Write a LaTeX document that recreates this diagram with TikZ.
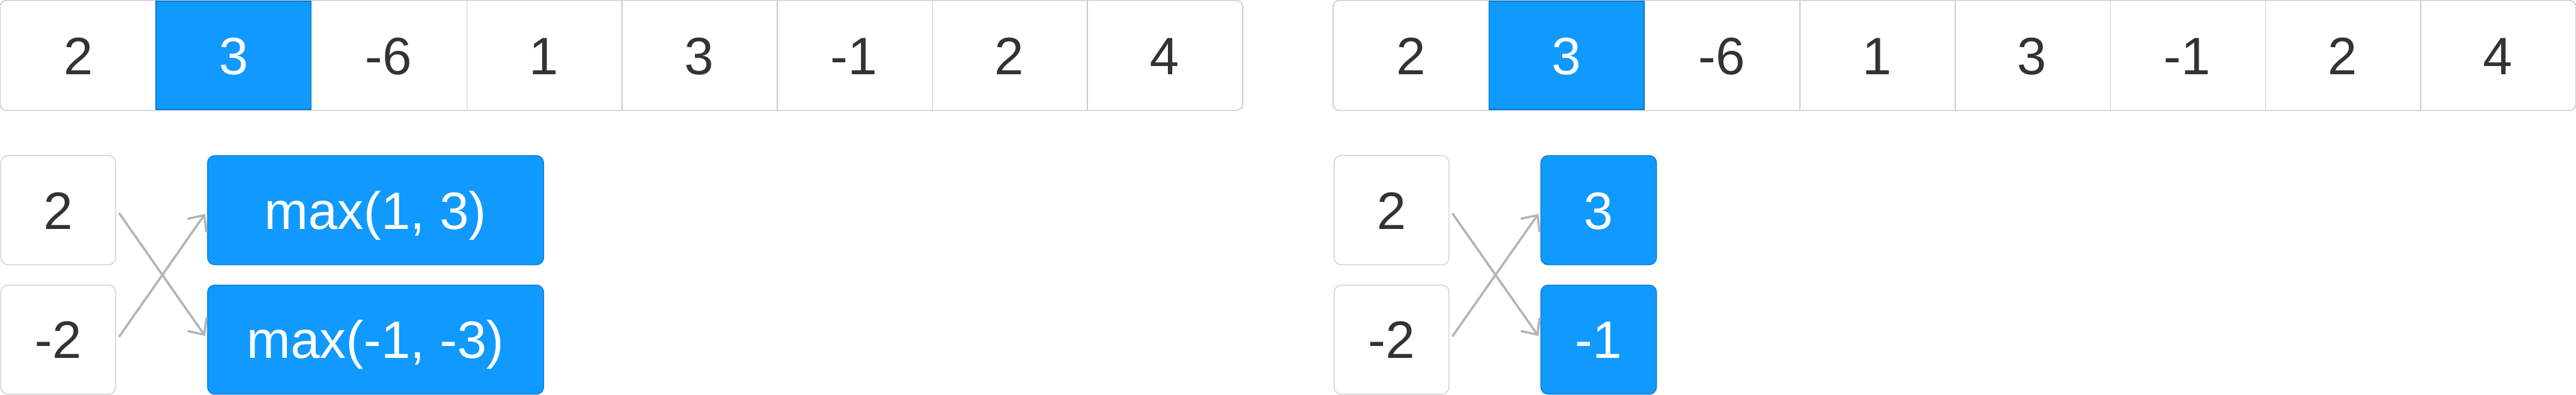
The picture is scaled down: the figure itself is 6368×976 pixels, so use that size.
\documentclass[tikz,border=0pt]{standalone}
\usepackage{fontspec}
\setmainfont{Liberation Sans}
\usetikzlibrary{arrows.meta,calc}
\definecolor{blu}{HTML}{1099FF}
\definecolor{bluedge}{HTML}{0A78D2}
\definecolor{gbord}{HTML}{CCCCCC}
\definecolor{arrowc}{HTML}{B4B4B4}
\definecolor{txt}{HTML}{333333}
\pgfdeclarelayer{bg}
\pgfsetlayers{bg,main}
\begin{document}
\begin{tikzpicture}[x=0.1pt,y=-0.1pt,
  lbl/.style={inner sep=0pt, text height=9.3pt, text depth=0pt, font=\fontsize{13}{15}\selectfont},
  cell/.style={lbl, minimum width=38.35pt, minimum height=26.8pt, text=txt},
  hicell/.style={cell, fill=blu, draw=bluedge, line width=0.25pt, text=white},
  frame/.style={draw=gbord, line width=0.25pt},
  sbox/.style={lbl, draw=gbord, line width=0.2pt, rounded corners=1.8pt, minimum width=28.4pt, minimum height=27pt, text=txt},
  bbox/.style={lbl, fill=blu, draw=bluedge, line width=0.2pt, rounded corners=1.8pt, minimum height=27pt, text=white},
  conn/.style={draw=arrowc, line width=0.55pt, line cap=round, -{Straight Barb[length=3pt,width=5.5pt,line cap=round]}}
]
\useasboundingbox (0,0) rectangle (6368,976);

% left array
\foreach \v/\s [count=\i] in {2/cell,3/hicell,-6/cell,1/cell,3/cell,-1/cell,2/cell,4/cell}{
  \node[\s] (L\i) at ({2+383.5*(\i-0.5)},137) {\v};
}
% right array
\foreach \v/\s [count=\i] in {2/cell,3/hicell,-6/cell,1/cell,3/cell,-1/cell,2/cell,4/cell}{
  \node[\s] (R\i) at ({3297+383.6*(\i-0.5)},137) {\v};
}
\begin{pgfonlayer}{bg}
  \draw[frame, rounded corners=1.6pt] (L1.north west) rectangle (L8.south east);
  \draw[frame, rounded corners=1.6pt] (R1.north west) rectangle (R8.south east);
  \foreach \i in {1,...,7}{
    \draw[frame] (L\i.north east) -- (L\i.south east);
    \draw[frame] (R\i.north east) -- (R\i.south east);
  }
\end{pgfonlayer}

% bottom left
\node[sbox] (a1) at (144,519.5) {2};
\node[sbox] (a2) at (144,839.5) {-2};
\node[bbox, minimum width=83.1pt] (m1) at (928.5,519.5) {max(1, 3)};
\node[bbox, minimum width=83.1pt] (m2) at (928.5,839.5) {max(-1, -3)};
\draw[conn] ($(a1.east)+(8,8)$) -- ($(m2.west)+(-5,-9)$);
\draw[conn] ($(a2.east)+(8,-8)$) -- ($(m1.west)+(-5,9)$);

% bottom right
\node[sbox] (b1) at (3440,519.5) {2};
\node[sbox] (b2) at (3440,839.5) {-2};
\node[bbox, minimum width=28.6pt] (r1) at (3952,519.5) {3};
\node[bbox, minimum width=28.6pt] (r2) at (3952,839.5) {-1};
\draw[conn] ($(b1.east)+(8,9)$) -- ($(r2.west)+(-5,-9)$);
\draw[conn] ($(b2.east)+(8,-9)$) -- ($(r1.west)+(-5,9)$);
\end{tikzpicture}
\end{document}
